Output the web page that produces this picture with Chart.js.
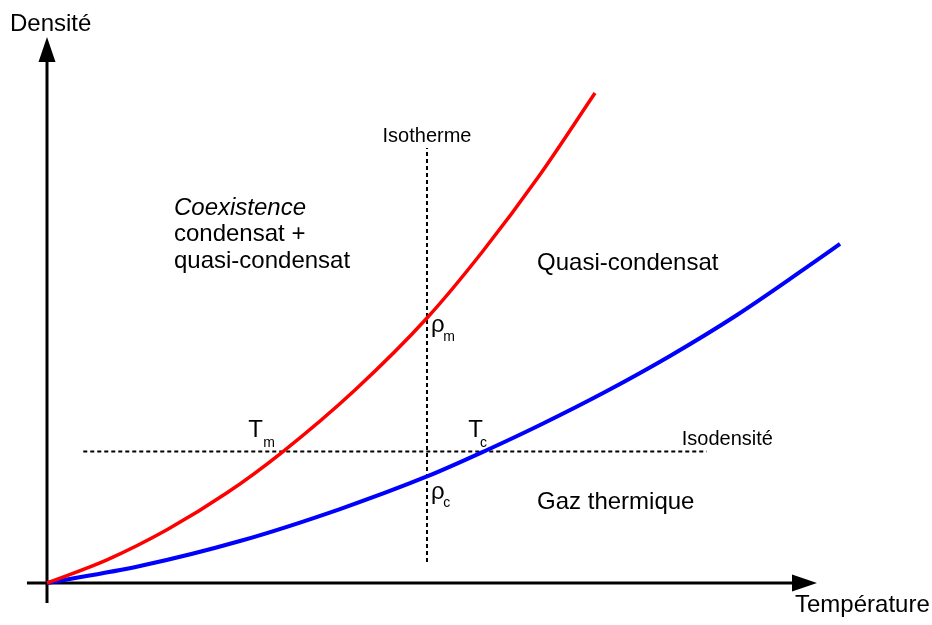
<!DOCTYPE html>
<html>
<head>
<meta charset="utf-8">
<script src="https://cdn.jsdelivr.net/npm/chart.js@4/dist/chart.umd.min.js"></script>
<style>
  body { margin: 0; background: #ffffff; }
  #wrap { width: 932px; height: 625px; }
</style>
</head>
<body>
<div id="wrap"><canvas id="myChart_phase" width="932" height="625"></canvas></div>
<script>
  "use strict";

  // Courbes (temperature, densite)
  const redT = [0, 0.779, 1.558, 2.338, 3.065, 4.000, 4.935, 5.662, 6.390, 7.117];
  const redRho = [0, 0.425, 0.976, 1.652, 2.408, 3.535, 4.853, 6.081, 7.454, 8.974];

  const blueT = [0, 1.208, 2.506, 3.805, 4.935, 5.701, 6.403, 7.247, 8.091, 8.961, 9.818, 10.299];
  const blueRho = [0, 0.311, 0.769, 1.355, 1.951, 2.427, 2.894, 3.498, 4.158, 4.908, 5.733, 6.209];

  // Isotherme et isodensite
  const isothermeT = [4.935, 4.935];
  const isothermeRho = [0.385, 7.967];
  const isodensiteT = [0.471, 8.567];
  const isodensiteRho = [2.408, 2.408];

  function toPoints(xs, ys) {
    return xs.map(function (x, i) { return { x: x, y: ys[i] }; });
  }

  const FONT = '"Liberation Sans", Arial, sans-serif';

  // textes : position en unites du graphe (gauche / ligne de base)
  const labels = [
    { text: 'Isotherme', x: 4.935, y: 8.082, size: 20, align: 'center' },
    { text: 'Isodensité', x: 8.243, y: 2.527, size: 20 },
    { text: 'Coexistence', x: 1.649, y: 6.740, size: 24, italic: true },
    { text: 'condensat +', x: 1.649, y: 6.255, size: 24 },
    { text: 'quasi-condensat', x: 1.649, y: 5.769, size: 24 },
    { text: 'Quasi-condensat', x: 6.364, y: 5.733, size: 24 },
    { text: 'Gaz thermique', x: 6.364, y: 1.355, size: 24 },
    { text: 'T', x: 2.614, y: 2.674, size: 24 },
    { text: 'm', x: 2.809, y: 2.491, size: 14 },
    { text: 'T', x: 5.471, y: 2.674, size: 24 },
    { text: 'c', x: 5.623, y: 2.491, size: 14 },
    { text: 'ρ', x: 4.987, y: 4.597, size: 24 },
    { text: 'm', x: 5.147, y: 4.432, size: 14 },
    { text: 'ρ', x: 4.987, y: 1.538, size: 24 },
    { text: 'c', x: 5.147, y: 1.392, size: 14 }
  ];

  const axesPlugin = {
    id: 'axesPlugin',
    beforeDatasetsDraw: function (chart) {
      const ctx = chart.ctx;
      const xs = chart.scales.x;
      const ys = chart.scales.y;
      const x0 = xs.getPixelForValue(0);
      const y0 = ys.getPixelForValue(0);
      const xEnd = xs.getPixelForValue(10);
      const yEnd = ys.getPixelForValue(10);
      ctx.save();
      ctx.strokeStyle = '#000000';
      ctx.fillStyle = '#000000';
      ctx.lineWidth = 3;
      ctx.beginPath();
      ctx.moveTo(xs.getPixelForValue(-0.26), y0);
      ctx.lineTo(xEnd - 20, y0);
      ctx.moveTo(x0, ys.getPixelForValue(-0.366));
      ctx.lineTo(x0, yEnd + 20);
      ctx.stroke();
      // fleches
      ctx.beginPath();
      ctx.moveTo(xEnd, y0);
      ctx.lineTo(xEnd - 25, y0 - 8.5);
      ctx.lineTo(xEnd - 25, y0 + 8.5);
      ctx.closePath();
      ctx.fill();
      ctx.beginPath();
      ctx.moveTo(x0, yEnd);
      ctx.lineTo(x0 - 8.5, yEnd + 25);
      ctx.lineTo(x0 + 8.5, yEnd + 25);
      ctx.closePath();
      ctx.fill();
      ctx.restore();
    },
    afterDraw: function (chart) {
      const ctx = chart.ctx;
      const xs = chart.scales.x;
      const ys = chart.scales.y;
      ctx.save();
      ctx.fillStyle = '#000000';
      ctx.textBaseline = 'alphabetic';
      labels.forEach(function (l) {
        ctx.font = (l.italic ? 'italic ' : '') + l.size + 'px ' + FONT;
        ctx.textAlign = l.align || 'left';
        ctx.fillText(l.text, xs.getPixelForValue(l.x), ys.getPixelForValue(l.y));
      });
      // titres des axes
      ctx.font = '24px ' + FONT;
      ctx.textAlign = 'left';
      ctx.fillText('Densité', 10, 31);
      ctx.fillText('Température', 795, 612);
      ctx.restore();
    }
  };

  const data_phase = {
    datasets: [
      {
        label: 'Tm',
        data: toPoints(redT, redRho),
        borderColor: '#ff0000',
        borderWidth: 3.5,
        cubicInterpolationMode: 'monotone',
        order: 0
      },
      {
        label: 'Tc',
        data: toPoints(blueT, blueRho),
        borderColor: '#0000ff',
        borderWidth: 4,
        cubicInterpolationMode: 'monotone',
        order: 0
      },
      {
        label: 'Isotherme',
        data: toPoints(isothermeT, isothermeRho),
        borderColor: '#000000',
        borderWidth: 2,
        borderDash: [4, 3],
        order: 1
      },
      {
        label: 'Isodensite',
        data: toPoints(isodensiteT, isodensiteRho),
        borderColor: '#000000',
        borderWidth: 2,
        borderDash: [4, 3],
        order: 1
      }
    ]
  };

  const config_phase = {
    type: 'scatter',
    data: data_phase,
    options: {
      responsive: false,
      animation: false,
      layout: {
        padding: { left: 47, right: 115, top: 37, bottom: 42 }
      },
      elements: {
        point: { radius: 0 },
        line: { fill: false }
      },
      datasets: {
        scatter: { showLine: true, clip: false }
      },
      scales: {
        x: { type: 'linear', min: 0, max: 10, display: false },
        y: { type: 'linear', min: 0, max: 10, display: false }
      },
      plugins: {
        legend: { display: false },
        tooltip: { enabled: false },
        title: { display: false }
      }
    },
    plugins: [axesPlugin]
  };

  const ctx_phase = document.getElementById('myChart_phase');
  const myChart_phase = new Chart(ctx_phase, config_phase);
</script>
</body>
</html>
